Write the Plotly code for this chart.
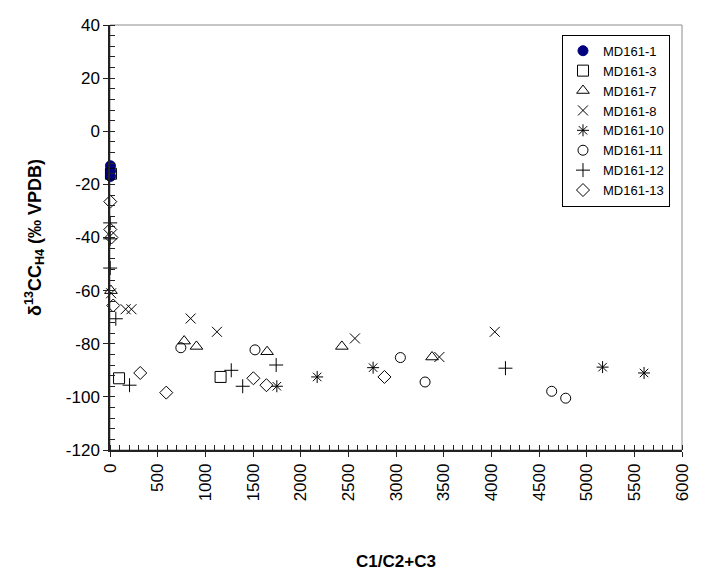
import plotly.graph_objects as go

# C1/(C2+C3) ratio and methane carbon isotope (delta13C, permil VPDB) per core
md161_1_x = [5, 5, 5]
md161_1_y = [-13, -15, -17]

md161_3_x = [10, 95, 1160]
md161_3_y = [-16, -93, -92.5]

md161_7_x = [10, 778, 907, 1648, 2432, 3378]
md161_7_y = [-60, -79, -81, -83, -81, -85]

md161_8_x = [12, 164, 225, 846, 1122, 2569, 3455, 4036]
md161_8_y = [-61, -67, -67, -70.5, -75.5, -78, -85, -75.5]

md161_10_x = [1750, 2173, 2760, 5167, 5602]
md161_10_y = [-96, -92.5, -89, -88.8, -91]

md161_11_x = [743, 1521, 3046, 3305, 4633, 4780]
md161_11_y = [-81.5, -82.3, -85.2, -94.4, -97.9, -100.5]

md161_12_x = [2, 2, 2, 61, 205, 1272, 1392, 1743, 4148]
md161_12_y = [-34.5, -40.5, -51.5, -70.6, -95.6, -90, -96, -88, -89.2]

md161_13_x = [3, 3, 15, 34, 317, 590, 1504, 1641, 2879]
md161_13_y = [-26.5, -37, -40, -65.6, -91, -98.4, -93, -95.6, -92.5]

x_ticks = list(range(0, 6001, 500))
y_ticks = list(range(-120, 41, 20))

series = [
    ("MD161-1", md161_1_x, md161_1_y, "circle", "#000080", 10),
    ("MD161-3", md161_3_x, md161_3_y, "square-open", "#000000", 11),
    ("MD161-7", md161_7_x, md161_7_y, "triangle-up-open", "#000000", 11),
    ("MD161-8", md161_8_x, md161_8_y, "x-thin-open", "#000000", 10),
    ("MD161-10", md161_10_x, md161_10_y, "asterisk-open", "#000000", 10),
    ("MD161-11", md161_11_x, md161_11_y, "circle-open", "#000000", 10),
    ("MD161-12", md161_12_x, md161_12_y, "cross-thin-open", "#000000", 10),
    ("MD161-13", md161_13_x, md161_13_y, "diamond-open", "#000000", 10),
]

fig = go.Figure()
for name, xs, ys, sym, col, size in series:
    fig.add_trace(go.Scatter(
        x=xs, y=ys, mode="markers", name=name,
        marker=dict(symbol=sym, size=size, color=col,
                    line=dict(color=col, width=1)),
        cliponaxis=False,
    ))

FONT = "Liberation Sans, Arial, sans-serif"
AX = "#222222"

fig.update_layout(
    width=703, height=579,
    margin=dict(l=110, r=11, t=25, b=127),
    paper_bgcolor="white", plot_bgcolor="white",
    font=dict(family=FONT, color="#000000", size=17),
    showlegend=True,
    legend=dict(
        x=0.979, xanchor="right", y=0.977, yanchor="top",
        bgcolor="white", bordercolor="#000000", borderwidth=1,
        font=dict(family=FONT, size=13, color="#000000"),
        tracegroupgap=0, itemwidth=30,
    ),
    xaxis=dict(
        range=[0, 6000], autorange=False, tickvals=x_ticks,
        ticktext=[str(v) for v in x_ticks],
        tickangle=-90, tickfont=dict(size=17),
        ticks="outside", ticklen=5, tickcolor=AX, tickwidth=1,
        minor=dict(dtick=100, ticks="inside", ticklen=5, tickcolor=AX),
        showline=True, linecolor=AX, linewidth=1.5,
        showgrid=False, zeroline=False,
        title=dict(text="<b>C1/C2+C3</b>", font=dict(size=17), standoff=55),
    ),
    yaxis=dict(
        range=[-120, 40], autorange=False, tickvals=y_ticks,
        ticktext=[str(v) for v in y_ticks],
        ticks="outside", ticklen=5, tickcolor=AX, tickwidth=1,
        tickfont=dict(size=17),
        minor=dict(dtick=4, ticks="inside", ticklen=5, tickcolor=AX),
        showline=True, linecolor=AX, linewidth=1.5,
        showgrid=False, zeroline=False,
        title=dict(text="<b>δ<sup>13</sup>CC<sub>H4</sub> (‰ VPDB)</b>",
                   font=dict(size=18), standoff=20),
    ),
    # companion axes that give the major ticks their inner half
    xaxis2=dict(
        overlaying="x", anchor="y", side="bottom",
        range=[0, 6000], autorange=False, tickvals=x_ticks,
        ticks="inside", ticklen=5, tickcolor=AX, showticklabels=False,
        showline=False, showgrid=False, zeroline=False,
    ),
    yaxis2=dict(
        overlaying="y", anchor="x", side="left",
        range=[-120, 40], autorange=False, tickvals=y_ticks,
        ticks="inside", ticklen=5, tickcolor=AX, showticklabels=False,
        showline=False, showgrid=False, zeroline=False,
    ),
    shapes=[dict(
        type="rect", xref="x domain", yref="y domain",
        x0=0, x1=1, y0=0, y1=1,
        line=dict(color="#8c8c8c", width=1), layer="below",
    )],
)

# invisible anchor trace so the companion axes are drawn
fig.add_trace(go.Scatter(x=[0], y=[0], xaxis="x2", yaxis="y2",
                         mode="markers", marker=dict(opacity=0),
                         showlegend=False, hoverinfo="skip"))

fig.write_html("out.html")
